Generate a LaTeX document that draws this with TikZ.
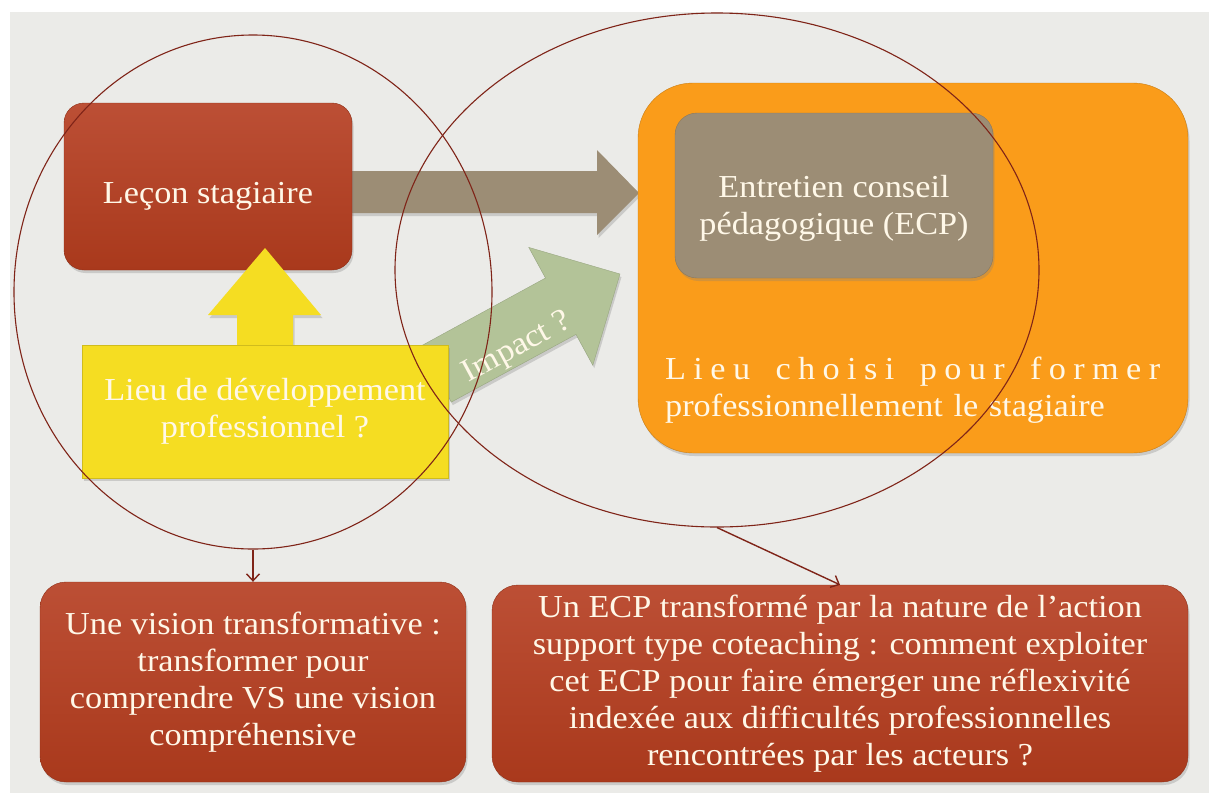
\documentclass[tikz,border=0pt]{standalone}
\usepackage{fontspec}
\setmainfont{Liberation Serif}[FakeStretch=1.07]
\usetikzlibrary{shapes.geometric,shadows,arrows.meta}
\definecolor{fond}{HTML}{EBEBE8}
\definecolor{briquehaut}{HTML}{BC4F35}
\definecolor{briquebas}{HTML}{A9391C}
\definecolor{taupe}{HTML}{9C8D75}
\definecolor{jaune}{HTML}{F5DD22}
\definecolor{vert}{HTML}{B3C398}
\definecolor{orangevif}{HTML}{FA9C1A}
\definecolor{trait}{HTML}{7F2418}
\definecolor{texte}{HTML}{FFF8E8}

\begin{document}
\begin{tikzpicture}[x=1pt, y=-1pt, >={Straight Barb[length=7pt,width=13pt]},
   txt/.style={text=texte, font=\fontsize{32}{37}\selectfont, align=center, execute at begin node={\rule{0pt}{40pt}}},
   ombre/.style={drop shadow={shadow xshift=1.5pt, shadow yshift=-3pt, opacity=.3}},
   boite/.style={txt, ombre, rounded corners=26pt, top color=briquehaut, bottom color=briquebas, draw=briquebas!85!black},
   zone/.style={ellipse, draw=trait, line width=1.1pt, inner sep=0pt}
   ]

   \fill[white] (0,0) rectangle (1209,793);
   \fill[fond] (10,12) rectangle (1209,793);

   \fill[taupe, ombre] (345,171) -- (597,171) -- (597,150) -- (639,193) -- (597,235) -- (597,213) -- (345,213) -- cycle;

   \path (208,186.5) node[boite, minimum width=288pt, minimum height=167pt, rounded corners=20pt] (lecon) {Leçon stagiaire};

   \fill[jaune, ombre] (237,350) -- (237,315) -- (208,315) -- (265,248) -- (321,315) -- (293,315) -- (293,350) -- cycle;

   \filldraw[fill=vert, draw=vert!85!black, ombre] (421,346) -- (545.5,278) -- (528.8,247.4) -- (620,274) -- (592.8,365.2) -- (576,334.4) -- (451.3,402.1) -- cycle;
   \path (513,340) node[txt, execute at begin node={}, rotate=28.5, inner sep=0pt] (impact) {Impact ?};

   \path (265,411.5) node[txt, fill=jaune, draw=jaune!85!black, ombre, minimum width=366pt, minimum height=133pt] (devpro) {Lieu de développement\\professionnel ?};

   \path (913,268) node[fill=orangevif, draw=orangevif!80!black, ombre, rounded corners=55pt, minimum width=550pt, minimum height=370pt] (lieuform) {};
   \path (834,195.5) node[txt, fill=taupe, draw=taupe!85!black, ombre, rounded corners=22pt, minimum width=318pt, minimum height=165pt] (ecp) {\rule{0pt}{48pt}Entretien conseil\\pédagogique (ECP)};
   \path (665,381) node[txt, anchor=west, align=left, text width=500pt, inner sep=0pt] (lieutxt) {\makebox[495pt][s]{L\hfill i\hfill e\hfill u\hfill\ \hfill c\hfill h\hfill o\hfill i\hfill s\hfill i\hfill\ \hfill p\hfill o\hfill u\hfill r\hfill\ \hfill f\hfill o\hfill r\hfill m\hfill e\hfill r}\\professionnellement le stagiaire};

   \path (253,682) node[boite, minimum width=426pt, minimum height=200pt] (vision) {Une vision transformative :\\transformer pour\\comprendre VS une vision\\compréhensive};
   \path (840,683.5) node[boite, minimum width=696pt, minimum height=197pt] (ecpq) {Un ECP transformé par la nature de l’action\\support type coteaching : comment exploiter\\cet ECP pour faire émerger une réflexivité\\indexée aux difficultés professionnelles\\rencontrées par les acteurs ?};

   \path (253,292) node[zone, minimum width=478pt, minimum height=514pt] (cercleA) {}
   (717,270) node[zone, minimum width=644pt, minimum height=514pt] (cercleB) {};

   \draw[->, trait, line width=1.4pt] (cercleA.south) -- (vision.north);
   \draw[->, trait, line width=1.4pt] (cercleB.south) -- (ecpq.north);

\end{tikzpicture}
\end{document}
